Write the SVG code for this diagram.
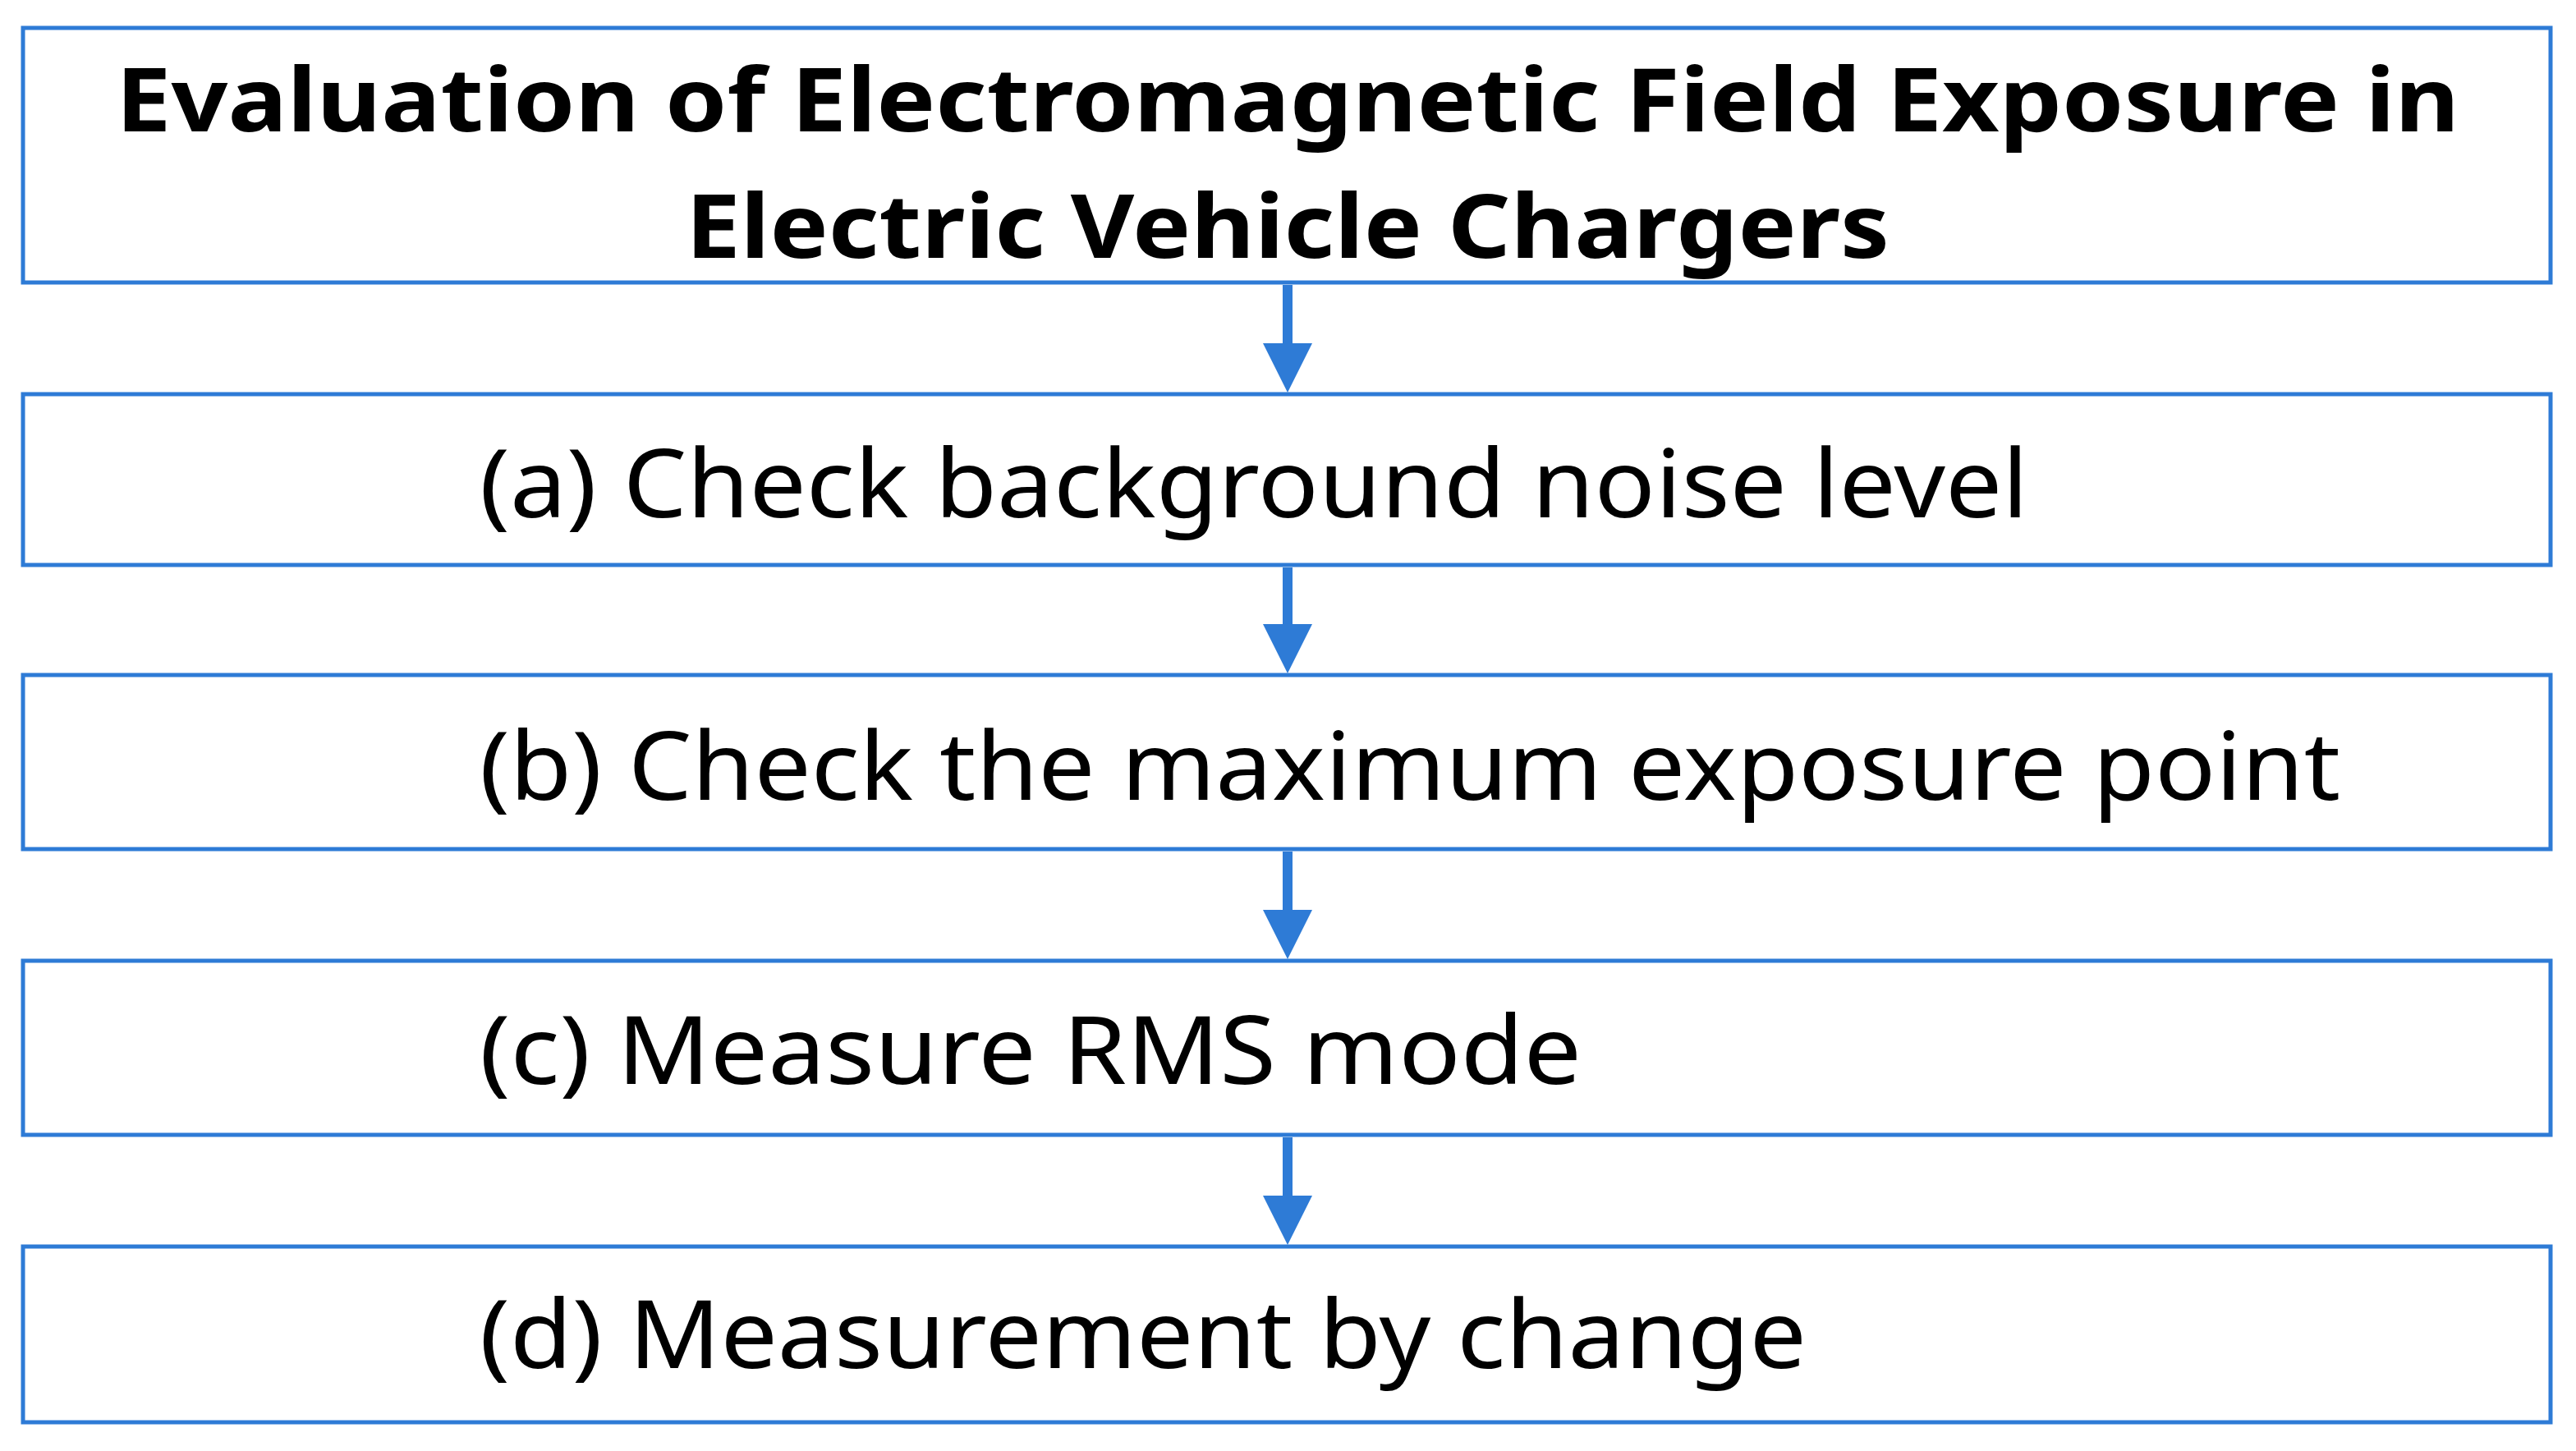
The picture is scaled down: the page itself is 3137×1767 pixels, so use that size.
<svg xmlns="http://www.w3.org/2000/svg" width="3137" height="1767" viewBox="0 0 3137 1767">
<style>
.box{fill:#fff;stroke:#2e7bd6;stroke-width:5}
.t{font-family:"Noto Sans","Open Sans",sans-serif;font-size:116px;fill:#000}
.h{font-family:"Noto Sans","Open Sans",sans-serif;font-size:108px;font-weight:bold;fill:#000;text-anchor:middle}
.c{stroke:#2e7bd6;stroke-width:12;fill:none}
</style>
<defs><marker id="a" markerWidth="5" markerHeight="5" refX="2.5" refY="2.5" orient="auto" markerUnits="strokeWidth"><path d="M0,0 L5,2.5 L0,5 z" fill="#2e7bd6"/></marker></defs>
<rect width="3137" height="1767" fill="#fff"/>
<g id="n0"><rect class="box" x="28" y="34" width="3078" height="310"/>
<text class="h" x="1568" y="160" textLength="2854" lengthAdjust="spacingAndGlyphs">Evaluation of Electromagnetic Field Exposure in</text>
<text class="h" x="1568" y="314" textLength="1466" lengthAdjust="spacingAndGlyphs">Electric Vehicle Chargers</text></g>
<g id="n1"><rect class="box" x="28" y="480" width="3078" height="208"/><text class="t" x="584" y="630" textLength="1886" lengthAdjust="spacingAndGlyphs">(a) Check background noise level</text></g>
<g id="n2"><rect class="box" x="28" y="822" width="3078" height="212"/><text class="t" x="584" y="974" textLength="2266" lengthAdjust="spacingAndGlyphs">(b) Check the maximum exposure point</text></g>
<g id="n3"><rect class="box" x="28" y="1170" width="3078" height="212"/><text class="t" x="584" y="1320" textLength="1342" lengthAdjust="spacingAndGlyphs">(c) Measure RMS mode</text></g>
<g id="n4"><rect class="box" x="28" y="1518" width="3078" height="214"/><text class="t" x="584" y="1666" textLength="1616" lengthAdjust="spacingAndGlyphs">(d) Measurement by change</text></g>
<g id="connectors">
<line class="c" x1="1568" y1="347" x2="1568" y2="448" marker-end="url(#a)"/>
<line class="c" x1="1568" y1="691" x2="1568" y2="790" marker-end="url(#a)"/>
<line class="c" x1="1568" y1="1037" x2="1568" y2="1138" marker-end="url(#a)"/>
<line class="c" x1="1568" y1="1385" x2="1568" y2="1486" marker-end="url(#a)"/>
</g>
</svg>
